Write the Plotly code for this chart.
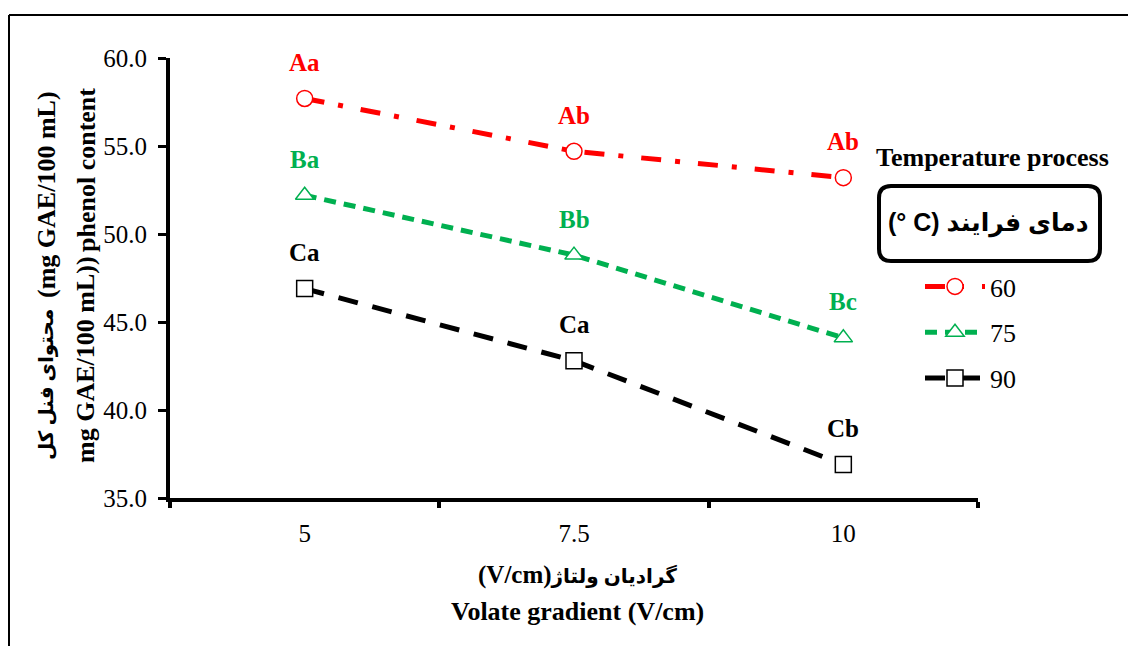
import plotly.graph_objects as go

# ---- data ----
categories = ["5", "7.5", "10"]
temps = ["60", "75", "90"]
values_60 = [57.7, 54.7, 53.2]
values_75 = [52.2, 48.8, 44.1]
values_90 = [46.9, 42.8, 36.9]
letters_60 = ["Aa", "Ab", "Ab"]
letters_75 = ["Ba", "Bb", "Bc"]
letters_90 = ["Ca", "Ca", "Cb"]
y_ticks = [35, 40, 45, 50, 55, 60]

# ---- layout geometry (pixels) ----
W, H = 1128, 646
L, R, T, B = 170, 978, 58, 498


def px(x):
    return (x - L) / (R - L)


def py(y):
    return (B - y) / (B - T)


SERIF = "Times New Roman, Liberation Serif, DejaVu Serif, DejaVu Sans, serif"
SANS = "Arial, Liberation Sans, DejaVu Sans, sans-serif"

series = [
    (temps[0], values_60, letters_60, "#FF0000", "20px,14px,5px,18px", "circle"),
    (temps[1], values_75, letters_75, "#00B050", "12px,8px", "triangle-up"),
    (temps[2], values_90, letters_90, "#000000", "20px,15px", "square"),
]

fig = go.Figure()
annotations = []
for name, vals, lets, col, dash, sym in series:
    fig.add_trace(go.Scatter(
        x=categories, y=vals, name=name, legendgroup=name,
        mode="lines+markers",
        line=dict(color=col, width=5, dash=dash),
        marker=dict(symbol=sym, size=16, color="white",
                    line=dict(color=col, width=1.5)),
    ))
    for i, (v, t) in enumerate(zip(vals, lets)):
        annotations.append(dict(
            x=i, y=v, xref="x", yref="y", text="<b>%s</b>" % t,
            showarrow=False, yshift=36, xanchor="center", yanchor="middle",
            font=dict(family=SERIF, size=25, color=col)))

# axis titles
ytitle = [
    ("(mg GAE/100 mL)", 46, 195, SERIF, 26),
    ("محتوای فنل کل", 46, 385, SERIF, 20),
    ("phenol content", 86, 170, SERIF, 26),
    ("mg GAE/100 mL))", 86, 360, SERIF, 26),
]
for txt, x, y, fam, sz in ytitle:
    annotations.append(dict(
        x=px(x), y=py(y), xref="paper", yref="paper", text="<b>%s</b>" % txt,
        textangle=-90, showarrow=False, xanchor="center", yanchor="middle",
        font=dict(family=fam, size=sz, color="black")))

annotations.append(dict(
    x=px(577), y=py(575), xref="paper", yref="paper",
    text="<b><span style='font-size:25px'>(V/cm)</span>گرادیان ولتاژ</b>",
    showarrow=False, xanchor="center", yanchor="middle",
    font=dict(family=SERIF, size=20, color="black")))
annotations.append(dict(
    x=px(577), y=py(611), xref="paper", yref="paper",
    text="<b>Volate gradient (V/cm)</b>", showarrow=False,
    xanchor="center", yanchor="middle",
    font=dict(family=SERIF, size=26, color="black")))

annotations.append(dict(
    x=px(993), y=py(157), xref="paper", yref="paper",
    text="<b>Temperature process</b>", showarrow=False,
    xanchor="center", yanchor="middle",
    font=dict(family=SERIF, size=26, color="black")))
annotations.append(dict(
    x=px(989), y=py(223), xref="paper", yref="paper",
    text="<b>(° C) دمای فرایند</b>", showarrow=False,
    xanchor="center", yanchor="middle",
    font=dict(family=SANS, size=25, color="black")))

# rounded legend-title box
x0, x1, y0, y1, r = px(879), px(1100), py(186), py(261), 12
rx, ry = r / (R - L), r / (B - T)
path = (f"M{x0+rx},{y0} L{x1-rx},{y0} Q{x1},{y0} {x1},{y0-ry} "
        f"L{x1},{y1+ry} Q{x1},{y1} {x1-rx},{y1} L{x0+rx},{y1} "
        f"Q{x0},{y1} {x0},{y1+ry} L{x0},{y0-ry} Q{x0},{y0} {x0+rx},{y0} Z")
shapes = [
    dict(type="path", path=path, xref="paper", yref="paper",
         line=dict(color="black", width=4)),
    # outer frame
    dict(type="line", xref="paper", yref="paper",
         x0=px(9), x1=px(1140), y0=py(15), y1=py(15),
         line=dict(color="black", width=2)),
    dict(type="line", xref="paper", yref="paper",
         x0=px(9), x1=px(9), y0=py(15), y1=py(660),
         line=dict(color="black", width=2)),
]

fig.update_layout(
    width=W, height=H,
    margin=dict(l=L, r=W - R, t=T, b=H - B, pad=0),
    paper_bgcolor="white", plot_bgcolor="white",
    showlegend=True,
    legend=dict(x=px(920), y=py(263), xanchor="left", yanchor="top",
                traceorder="grouped", tracegroupgap=9,
                font=dict(family=SERIF, size=26, color="black"),
                bgcolor="rgba(0,0,0,0)", itemwidth=60),
    annotations=annotations,
    shapes=shapes,
    xaxis=dict(
        type="category", categoryorder="array", categoryarray=categories,
        range=[-0.5, 2.5], showgrid=False, zeroline=False,
        showline=True, linecolor="black", linewidth=4,
        ticks="outside", tickson="boundaries", ticklen=6, tickwidth=4,
        tickcolor="black", ticklabelstandoff=10,
        tickfont=dict(family=SERIF, size=25, color="black")),
    yaxis=dict(
        range=[35, 60], tickvals=y_ticks, tickformat=".1f",
        showgrid=False, zeroline=False,
        showline=True, linecolor="black", linewidth=4,
        ticks="outside", ticklen=8, tickwidth=3, tickcolor="black",
        ticklabelstandoff=6,
        tickfont=dict(family=SERIF, size=25, color="black")),
)

fig.write_html("out.html")
